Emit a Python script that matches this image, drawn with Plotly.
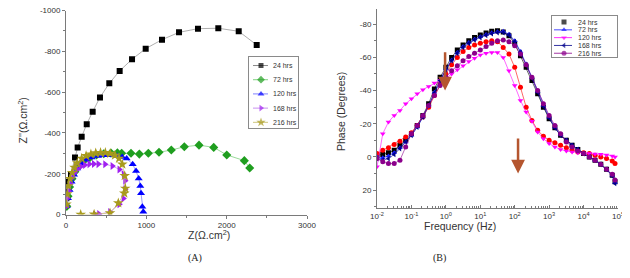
import math
import plotly.graph_objects as go

# The page body has an 8px margin, so the figure is laid out in page pixels minus 8.
OFF = 8
W, H = 630 - OFF, 278 - OFF


def px(x):
    return (x - OFF) / W


def py(y):
    return 1 - (y - OFF) / H


# ---------------- Panel A : Nyquist data (Z' , Z'') ----------------
nyq_labels = ["24 hrs", "72 hrs", "120 hrs", "168 hrs", "216 hrs"]
nyq_colors = ["#000000", "#1f9e1f", "#0000ff", "#a020f0", "#a89a1c"]
nyq_line_colors = ["#9a9a9a", "#7fd07f", "#8080ff", "#c890f0", "#cfc680"]
nyq_symbols = ["square", "diamond", "triangle-up", "triangle-right", "star"]
nyq_sizes = [6, 7, 7, 7, 8]

zre_24 = [5, 10, 20, 37, 62, 112, 145, 195, 258, 332, 423, 539, 668, 822, 992, 1195, 1407, 1643, 1896, 2150, 2374]
zim_24 = [-80, -105, -131, -161, -197, -280, -329, -381, -443, -504, -574, -643, -704, -761, -813, -857, -893, -911, -913, -898, -831]

zre_72 = [10, 25, 45, 75, 110, 160, 220, 300, 380, 470, 560, 640, 693, 809, 913, 1025, 1158, 1311, 1473, 1656, 1839, 2001, 2220, 2287]
zim_72 = [-40, -90, -135, -175, -210, -240, -262, -280, -292, -298, -301, -302, -300, -300, -296, -300, -305, -316, -332, -340, -329, -292, -264, -228]

zre_120 = [10, 25, 45, 70, 100, 140, 190, 250, 320, 400, 480, 560, 640, 700, 755, 830, 872, 905, 925, 934, 950, 962]
zim_120 = [-40, -80, -120, -160, -195, -225, -250, -268, -280, -287, -290, -290, -287, -282, -275, -246, -213, -177, -140, -104, -38, -14]

zre_168 = [5, 15, 30, 50, 75, 105, 140, 185, 235, 290, 345, 402, 486, 577, 664, 718, 735, 735, 714, 664, 548, 411, 361]
zim_168 = [-40, -80, -115, -150, -180, -205, -222, -235, -243, -247, -248, -247, -246, -238, -221, -197, -166, -124, -79, -50, -12, -2, 0]

zre_216 = [5, 15, 30, 50, 75, 105, 140, 195, 250, 310, 370, 430, 490, 550, 610, 660, 701, 731, 738, 726, 651, 548, 350, 183]
zim_216 = [-50, -100, -140, -175, -205, -230, -252, -275, -288, -296, -301, -303, -303, -299, -290, -275, -246, -190, -128, -104, -56, -7, -1, 0]

nyq_re = [zre_24, zre_72, zre_120, zre_168, zre_216]
nyq_im = [zim_24, zim_72, zim_120, zim_168, zim_216]

nyq_xticks = [0, 1000, 2000, 3000]
nyq_xtext = ["0", "1000", "2000", "3000"]
nyq_yticks = [0, -200, -400, -600, -800, -1000]
nyq_ytext = ["0", "-200", "-400", "-600", "-800", "-1000"]

# ---------------- Panel B : Bode phase data ----------------
freq_hz = [0.01, 0.0147, 0.0215, 0.0316, 0.0464, 0.0681, 0.1, 0.147, 0.215, 0.316, 0.464, 0.681,
           1, 1.47, 2.15, 3.16, 4.64, 6.81, 10, 14.7, 21.5, 31.6, 46.4, 68.1,
           100, 147, 215, 316, 464, 681, 1000, 1470, 2150, 3160, 4640, 6810,
           10000, 14700, 21500, 31600, 46400, 68100, 82000]

ph_24 = [-1, -1.5, -2.5, -4, -7, -10, -14, -19, -25, -32, -41, -48, -54, -60, -64.5, -67.5, -70, -72, -73.5, -74.7,
         -75.7, -76, -75.3, -73, -68.5, -61, -54, -46, -38, -30, -23, -17.5, -13, -10, -7, -4.5, -2, 0, 2, 4.5, 7.5, 11, 15]
ph_red = [-2, -4, -5.5, -7.5, -9.5, -12, -14.5, -19, -24, -30, -37, -44, -50, -55.5, -60, -63.5, -66, -67.5, -68.5, -69.5,
          -70, -69.5, -66, -62, -54, -42, -30, -22, -16, -12.5, -10, -8.5, -7, -5.5, -4, -3, -2.5, -2, -1, 0, 1, 2.5, 4]
ph_72 = [0, 0.5, -0.5, -2.5, -5.5, -9, -13, -18, -24, -31, -39, -46.5, -53, -58.5, -63, -66.5, -69, -71, -72.5, -73.8,
         -74.8, -75.5, -75.8, -74, -70, -63.5, -56, -48, -39.5, -31, -24, -18, -13.5, -10, -7, -4.5, -2, 0, 2, 4.5, 7.5, 11, 15.5]
ph_120 = [6, -14, -21, -25, -28, -32, -35, -38, -40.5, -42.5, -44.5, -46, -47.5, -50, -52.5, -55, -57.5, -59.5, -61.5, -62.5,
          -63, -63, -60, -52, -43, -34, -27, -21.5, -15, -11, -8, -6, -4.5, -3.5, -3, -2.5, -2.2, -2, -1.8, -1.6, -1.2, -0.6, 0]
ph_168 = [1, 2, 1, -1.5, -5, -9, -13, -18, -24, -31, -38.5, -46, -52.5, -58, -62.5, -66, -68.5, -70.5, -72, -73.3,
          -74.3, -75, -75, -73.5, -69.5, -63, -55.5, -47.5, -39, -30.5, -23.5, -17.5, -13, -10, -7, -4.5, -2, 0, 2, 4.5, 7.5, 11.5, 16]
ph_216 = [1, 3, 4, 4, 2, -6, -14, -19, -25, -31, -37, -43, -48, -52, -55, -58, -60.5, -62.5, -64.5, -66.5,
          -68.5, -70, -70.5, -69.5, -67, -62, -55.5, -48, -40, -32, -25, -19, -14, -9, -6, -3.5, -2, 0, 2, 4.5, 7.5, 10.5, 14]

bode_labels = ["24 hrs", "72 hrs", "120 hrs", "168 hrs", "216 hrs"]
bode_colors = ["#000000", "#1a1aff", "#ff00ff", "#00008b", "#8b008b"]
bode_symbols = ["square", "triangle-up", "triangle-down", "triangle-left", "circle"]
extra_color = "#ff0000"

bode_xticks = [0.01, 0.1, 1, 10, 100, 1000, 10000, 100000]
bode_xtext = ["10<sup>-2</sup>", "10<sup>-1</sup>", "10<sup>0</sup>", "10<sup>1</sup>", "10<sup>2</sup>",
              "10<sup>3</sup>", "10<sup>4</sup>", "10<sup>5</sup>"]
bode_yticks = [-80, -60, -40, -20, 0, 20]
bode_ytext = ["-80", "-60", "-40", "-20", "0", "20"]

# arrows (frequency, phase start -> end)
arrow_freq = [0.95, 125]
arrow_from = [-64, -12]
arrow_to = [-40, 10]

fig = go.Figure()

for i in range(5):
    fig.add_trace(go.Scatter(
        x=nyq_re[i], y=nyq_im[i], mode="lines+markers", xaxis="x", yaxis="y",
        line=dict(color=nyq_line_colors[i], width=0.8),
        marker=dict(symbol=nyq_symbols[i], size=nyq_sizes[i], color=nyq_colors[i], line=dict(width=0)),
        showlegend=False, name=nyq_labels[i]))


def add_bode(vals, color, sym, name):
    fig.add_trace(go.Scatter(
        x=freq_hz, y=vals, mode="lines+markers", xaxis="x2", yaxis="y2",
        line=dict(color=color, width=0.6),
        marker=dict(symbol=sym, size=5, color=color, line=dict(width=0)),
        showlegend=False, name=name))


add_bode(ph_24, bode_colors[0], bode_symbols[0], bode_labels[0])
add_bode(ph_red, extra_color, "circle", "")
add_bode(ph_72, bode_colors[1], bode_symbols[1], bode_labels[1])
add_bode(ph_120, bode_colors[2], bode_symbols[2], bode_labels[2])
add_bode(ph_168, bode_colors[3], bode_symbols[3], bode_labels[3])
add_bode(ph_216, bode_colors[4], bode_symbols[4], bode_labels[4])

# custom legends, drawn on their own small axes
for i in range(5):
    fig.add_trace(go.Scatter(
        x=[4, 12, 19], y=[i, i, i], mode="lines+markers", xaxis="x5", yaxis="y5",
        line=dict(color=nyq_line_colors[i] if i else "#8a8a8a", width=1),
        marker=dict(symbol=nyq_symbols[i], size=[0, nyq_sizes[i] - 1, 0], color=nyq_colors[i], line=dict(width=0)),
        showlegend=False, hoverinfo="skip"))
    fig.add_trace(go.Scatter(
        x=[2, 12, 20], y=[i, i, i], mode="lines+markers", xaxis="x6", yaxis="y6",
        line=dict(color=bode_colors[i] if i else "rgba(0,0,0,0)", width=0.8),
        marker=dict(symbol=bode_symbols[i], size=[0, 5, 0], color=bode_colors[i], line=dict(width=0)),
        showlegend=False, hoverinfo="skip"))

axis_col = "#7a7a7a"
tick_font = dict(family="Arial", size=8, color="#333333")


def base_axis(**kw):
    d = dict(showgrid=False, zeroline=False, showline=True, linecolor=axis_col, linewidth=1, automargin=False,
             ticks="outside", ticklen=3, tickcolor=axis_col, tickfont=tick_font, ticklabeloverflow="allow")
    d.update(kw)
    return d


def mirror_axis(**kw):
    d = dict(showgrid=False, zeroline=False, showline=True, linecolor=axis_col, linewidth=1, automargin=False,
             ticks="inside", ticklen=3, tickcolor=axis_col, showticklabels=False)
    d.update(kw)
    return d


def box_axis(**kw):
    d = dict(showgrid=False, zeroline=False, showticklabels=False, ticks="", showline=True, mirror=True,
             linecolor="#8a8a8a", linewidth=1, automargin=False, fixedrange=True)
    d.update(kw)
    return d


A_x = [px(66), px(307)]
A_y = [py(214.5), py(10.5)]
B_x = [px(377), px(618)]
B_y = [py(208.3), py(9.3)]

layout = dict(
    width=W, height=H, margin=dict(l=0, r=0, t=0, b=0, pad=0, autoexpand=False),
    paper_bgcolor="white", plot_bgcolor="white", showlegend=False,
    xaxis=base_axis(domain=A_x, range=[0, 3000], anchor="y", tickvals=nyq_xticks, ticktext=nyq_xtext,
                    minor=dict(dtick=500, ticks="outside", ticklen=2, tickcolor=axis_col)),
    yaxis=base_axis(domain=A_y, range=[0, -1000], anchor="x", tickvals=nyq_yticks, ticktext=nyq_ytext,
                    minor=dict(dtick=100, ticks="outside", ticklen=2, tickcolor=axis_col)),
    xaxis3=mirror_axis(overlaying="x", side="top", anchor="y", range=[0, 3000], dtick=500, ticklen=2),
    yaxis3=mirror_axis(overlaying="y", side="right", anchor="x", range=[0, -1000], dtick=100, ticklen=2),
    xaxis2=base_axis(domain=B_x, type="log", range=[-2, 5], anchor="y2", tickvals=bode_xticks, ticktext=bode_xtext,
                     ticks="inside", minor=dict(dtick="D1", ticks="inside", ticklen=2, tickcolor=axis_col)),
    yaxis2=base_axis(domain=B_y, range=[31, -89], anchor="x2", tickvals=bode_yticks, ticktext=bode_ytext,
                     minor=dict(dtick=10, ticks="outside", ticklen=2, tickcolor=axis_col)),
    xaxis4=mirror_axis(overlaying="x2", side="top", anchor="y2", type="log", range=[-2, 5], dtick="D1", ticklen=2),
    yaxis4=mirror_axis(overlaying="y2", side="right", anchor="x2", range=[31, -89], dtick=10, ticklen=2),
    xaxis5=box_axis(domain=[px(249), px(298)], range=[0, 49], anchor="y5"),
    yaxis5=box_axis(domain=[py(128), py(57)], range=[4.4, -0.6], anchor="x5"),
    xaxis6=box_axis(domain=[px(552), px(617)], range=[0, 65], anchor="y6"),
    yaxis6=box_axis(domain=[py(57.3), py(15.7)], range=[4.52, -0.81], anchor="x6"),
)
fig.update_layout(**layout)

ann = []
for i in range(5):
    ann.append(dict(x=22, y=i, xref="x5", yref="y5", text=nyq_labels[i], showarrow=False, xanchor="left",
                    font=dict(family="Arial", size=7, color="#333333")))
    ann.append(dict(x=24, y=i, xref="x6", yref="y6", text=bode_labels[i], showarrow=False, xanchor="left",
                    font=dict(family="Arial", size=7, color="#333333")))

title_font = dict(family="Arial", size=10.5, color="#333333")
ann += [
    dict(x=px(186), y=py(243), xref="paper", yref="paper", text="Z(Ω.cm<sup>2</sup>)", showarrow=False, font=title_font),
    dict(x=px(13), y=py(121), xref="paper", yref="paper", text="Z''(Ω.cm<sup>2</sup>)", showarrow=False,
         textangle=-90, font=title_font),
    dict(x=px(498), y=py(234), xref="paper", yref="paper", text="Frequency (Hz)", showarrow=False, font=title_font),
    dict(x=px(341), y=py(112), xref="paper", yref="paper", text="Phase (Degrees)", showarrow=False,
         textangle=-90, font=title_font),
    dict(x=px(186), y=py(266), xref="paper", yref="paper", text="(A)", showarrow=False,
         font=dict(family="Liberation Serif", size=10, color="#222222")),
    dict(x=px(448), y=py(266), xref="paper", yref="paper", text="(B)", showarrow=False,
         font=dict(family="Liberation Serif", size=10, color="#222222")),
]
for f, y0, y1 in zip(arrow_freq, arrow_from, arrow_to):
    ann.append(dict(x=math.log10(f), y=y1, ax=math.log10(f), ay=y0, xref="x2", yref="y2", axref="x2", ayref="y2",
                    showarrow=True, arrowhead=2, arrowsize=1.1, arrowwidth=2.5, arrowcolor="#b5562f", text=""))
fig.update_layout(annotations=ann)

fig.write_html("out.html")
